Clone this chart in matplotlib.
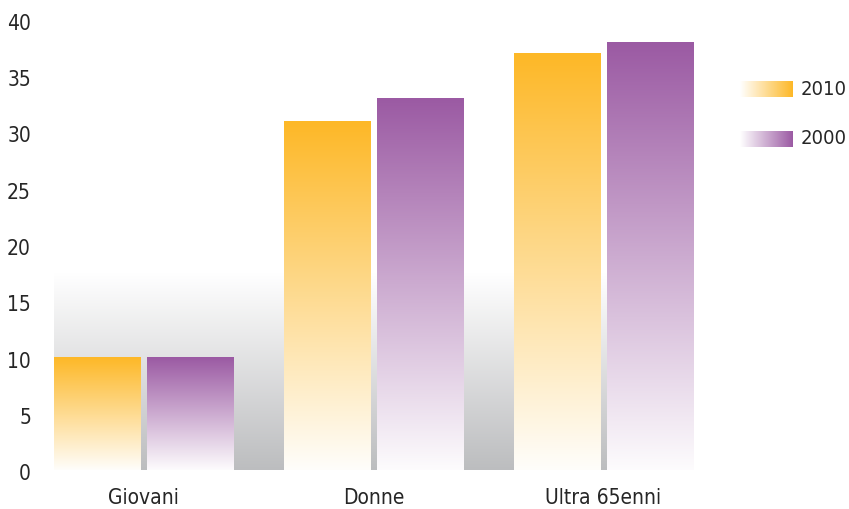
import numpy as np
import matplotlib
matplotlib.use('Agg')
import matplotlib.pyplot as plt

CATEGORIES = ['Giovani', 'Donne', 'Ultra 65enni']
SERIES = ['2010', '2000']
VALUES_2010 = [10, 31, 37]
VALUES_2000 = [10, 33, 38]
Y_TICKS = [0, 5, 10, 15, 20, 25, 30, 35, 40]

ORANGE = (253, 184, 39)
PURPLE = (155, 90, 163)
GREY = (188, 189, 191)

plt.rcParams['font.family'] = ['Liberation Sans Narrow', 'DejaVu Sans']
plt.rcParams['font.stretch'] = 'condensed'
TEXT_COLOR = '#262626'
FS = 15


def vertical_gradient(top, t_low=0.02, n=256):
    # rows go top -> bottom, colour fades to white towards the bottom
    t = np.linspace(1.0, t_low, n)[:, None, None]
    top = np.array(top, dtype=float)[None, None, :] / 255.0
    return top * t + (1 - t)


def horizontal_gradient(right, n=256):
    t = np.linspace(0.0, 1.0, n)[None, :, None]
    right = np.array(right, dtype=float)[None, None, :] / 255.0
    return right * t + (1 - t)


W, H = 849, 509
fig = plt.figure(figsize=(W / 100, H / 100), dpi=100)

# axes placed in pixels: x 54..693, y 20..470
ax = fig.add_axes([54 / W, 39 / H, 639 / W, 450 / H])
bar_w = 0.374
offset = 0.202
x = np.arange(len(CATEGORIES), dtype=float)
xmin, xmax = x[0] - offset - bar_w / 2, x[-1] + offset + bar_w / 2

# grey backdrop band fading up to white
band = np.linspace(0.0, 1.0, 256)[:, None, None]
grey = np.array(GREY)[None, None, :] / 255.0
ax.imshow(grey * band + (1 - band), extent=(xmin, xmax, 0, 17.5),
          aspect='auto', zorder=0, interpolation='bilinear')

for vals, col, dx in [(VALUES_2010, ORANGE, -offset), (VALUES_2000, PURPLE, offset)]:
    bars = ax.bar(x + dx, vals, width=bar_w, color='none', linewidth=0)
    for b in bars:
        x0, y0 = b.get_x(), b.get_y()
        ax.imshow(vertical_gradient(col), extent=(x0, x0 + b.get_width(), y0, y0 + b.get_height()),
                  aspect='auto', zorder=2, interpolation='bilinear')

ax.set_xlim(xmin, xmax)
ax.set_ylim(0, 40)
ax.axis('off')

# y labels, sitting a touch below their value
for v in Y_TICKS:
    ax.annotate(str(v), (xmin, v), xytext=(-23, -4), textcoords='offset pixels',
                ha='right', va='center', fontsize=FS, color=TEXT_COLOR)

for xi, name in zip(x, CATEGORIES):
    ax.annotate(name, (xi, 0), xytext=(0, -28), textcoords='offset pixels',
                ha='center', va='center', fontsize=FS, color=TEXT_COLOR)

# legend with horizontal gradient swatches
lax = fig.add_axes([0, 0, 1, 1])
lax.axis('off')
for i, (label, col) in enumerate(zip(SERIES, [ORANGE, PURPLE])):
    y0 = 81 + i * 50
    lax.imshow(horizontal_gradient(col), extent=(740, 793, y0 + 16, y0),
               aspect='auto', interpolation='bilinear')
    lax.text(801, y0 + 8, label, ha='left', va='center', fontsize=14.5, color=TEXT_COLOR)
lax.set_xlim(0, W)
lax.set_ylim(H, 0)

fig.savefig('out.png', dpi=100)
